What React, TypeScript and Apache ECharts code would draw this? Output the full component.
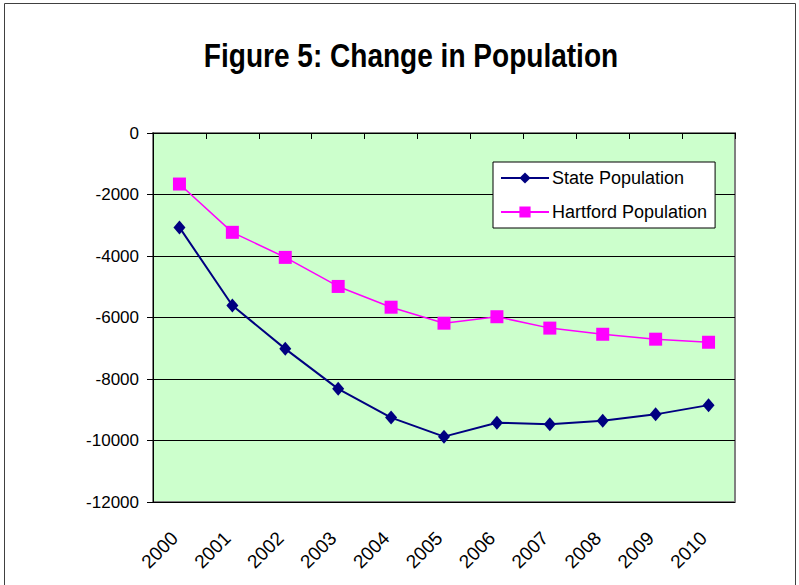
import React, { useEffect, useRef } from "react";
import * as echarts from "echarts";

const years = ["2000", "2001", "2002", "2003", "2004", "2005", "2006", "2007", "2008", "2009", "2010"];
const statePopulation = [-3070, -5610, -7020, -8320, -9255, -9875, -9420, -9470, -9360, -9150, -8850];
const hartfordPopulation = [-1660, -3230, -4045, -4990, -5665, -6185, -5975, -6345, -6545, -6705, -6805];
const yTicks = { min: -12000, max: 0, interval: 2000 };
const titleText = "Figure 5: Change in Population";

const FONT = "'Liberation Sans', Arial, Helvetica, sans-serif";

export default function App() {
  const ref = useRef<HTMLDivElement>(null);
  useEffect(() => {
    if (!ref.current) return;
    const chart = echarts.init(ref.current, null, { renderer: "svg" });
    chart.setOption({
      animation: false,
      backgroundColor: "#ffffff",
      textStyle: { fontFamily: FONT },
      graphic: [
        {
          type: "rect",
          silent: true,
          shape: { x: 4.5, y: 3.5, width: 791, height: 620 },
          style: { fill: "none", stroke: "#404040", lineWidth: 1 },
        },
        {
          type: "text",
          x: 411,
          y: 55,
          scaleX: 0.85,
          style: {
            text: titleText,
            fontSize: 33,
            fontWeight: "bold",
            fontFamily: FONT,
            fill: "#000",
            align: "center",
            verticalAlign: "middle",
            textAlign: "center",
            textVerticalAlign: "middle",
          },
        },
      ],
      grid: {
        left: 153,
        top: 133,
        right: 64,
        bottom: 83,
        show: true,
        backgroundColor: "#CCFFCC",
        borderColor: "#808080",
        borderWidth: 2,
      },
      legend: {
        orient: "vertical",
        left: 493,
        top: 162,
        padding: [7, 8, 7, 7],
        itemWidth: 48,
        itemHeight: 14,
        itemGap: 16,
        backgroundColor: "#ffffff",
        borderColor: "#000000",
        borderWidth: 1,
        textStyle: { fontSize: 18, color: "#000", fontFamily: FONT, padding: [0, 0, 0, -2] },
        data: ["State Population", "Hartford Population"],
      },
      xAxis: [
        {
          type: "category",
          data: years,
          position: "bottom",
          boundaryGap: true,
          axisLine: { show: false },
          axisTick: { show: false },
          axisLabel: {
            rotate: 45,
            fontSize: 19,
            color: "#000",
            margin: 28,
            padding: [0, 7, 0, 0],
            fontFamily: FONT,
          },
          splitLine: { show: false },
        },
        {
          type: "category",
          data: years,
          position: "top",
          boundaryGap: true,
          axisLine: { show: true, lineStyle: { color: "#000", width: 1 } },
          axisTick: { show: true, inside: true, length: 6, lineStyle: { color: "#000" } },
          axisLabel: { show: false },
          splitLine: { show: false },
        },
      ],
      yAxis: {
        type: "value",
        min: yTicks.min,
        max: yTicks.max,
        interval: yTicks.interval,
        axisLine: { show: true, lineStyle: { color: "#000", width: 1 } },
        axisTick: { show: true, length: 6, lineStyle: { color: "#000" } },
        axisLabel: {
          fontSize: 17,
          color: "#000",
          margin: 14,
          fontFamily: FONT,
          formatter: (v: number) => String(v),
        },
        splitLine: { show: true, lineStyle: { color: "#000", width: 1 } },
      },
      series: [
        {
          name: "State Population",
          type: "line",
          data: statePopulation,
          symbol: "diamond",
          symbolSize: [12, 14],
          color: "#000080",
          itemStyle: { color: "#000080" },
          lineStyle: { color: "#000080", width: 2 },
        },
        {
          name: "Hartford Population",
          type: "line",
          data: hartfordPopulation,
          symbol: "rect",
          symbolSize: 13,
          color: "#FF00FF",
          itemStyle: { color: "#FF00FF" },
          lineStyle: { color: "#FF00FF", width: 1.5 },
        },
      ],
    });
    return () => chart.dispose();
  }, []);
  return (
    <div
      ref={ref}
      style={{ position: "fixed", left: 0, top: 0, width: 799, height: 585 }}
    />
  );
}
